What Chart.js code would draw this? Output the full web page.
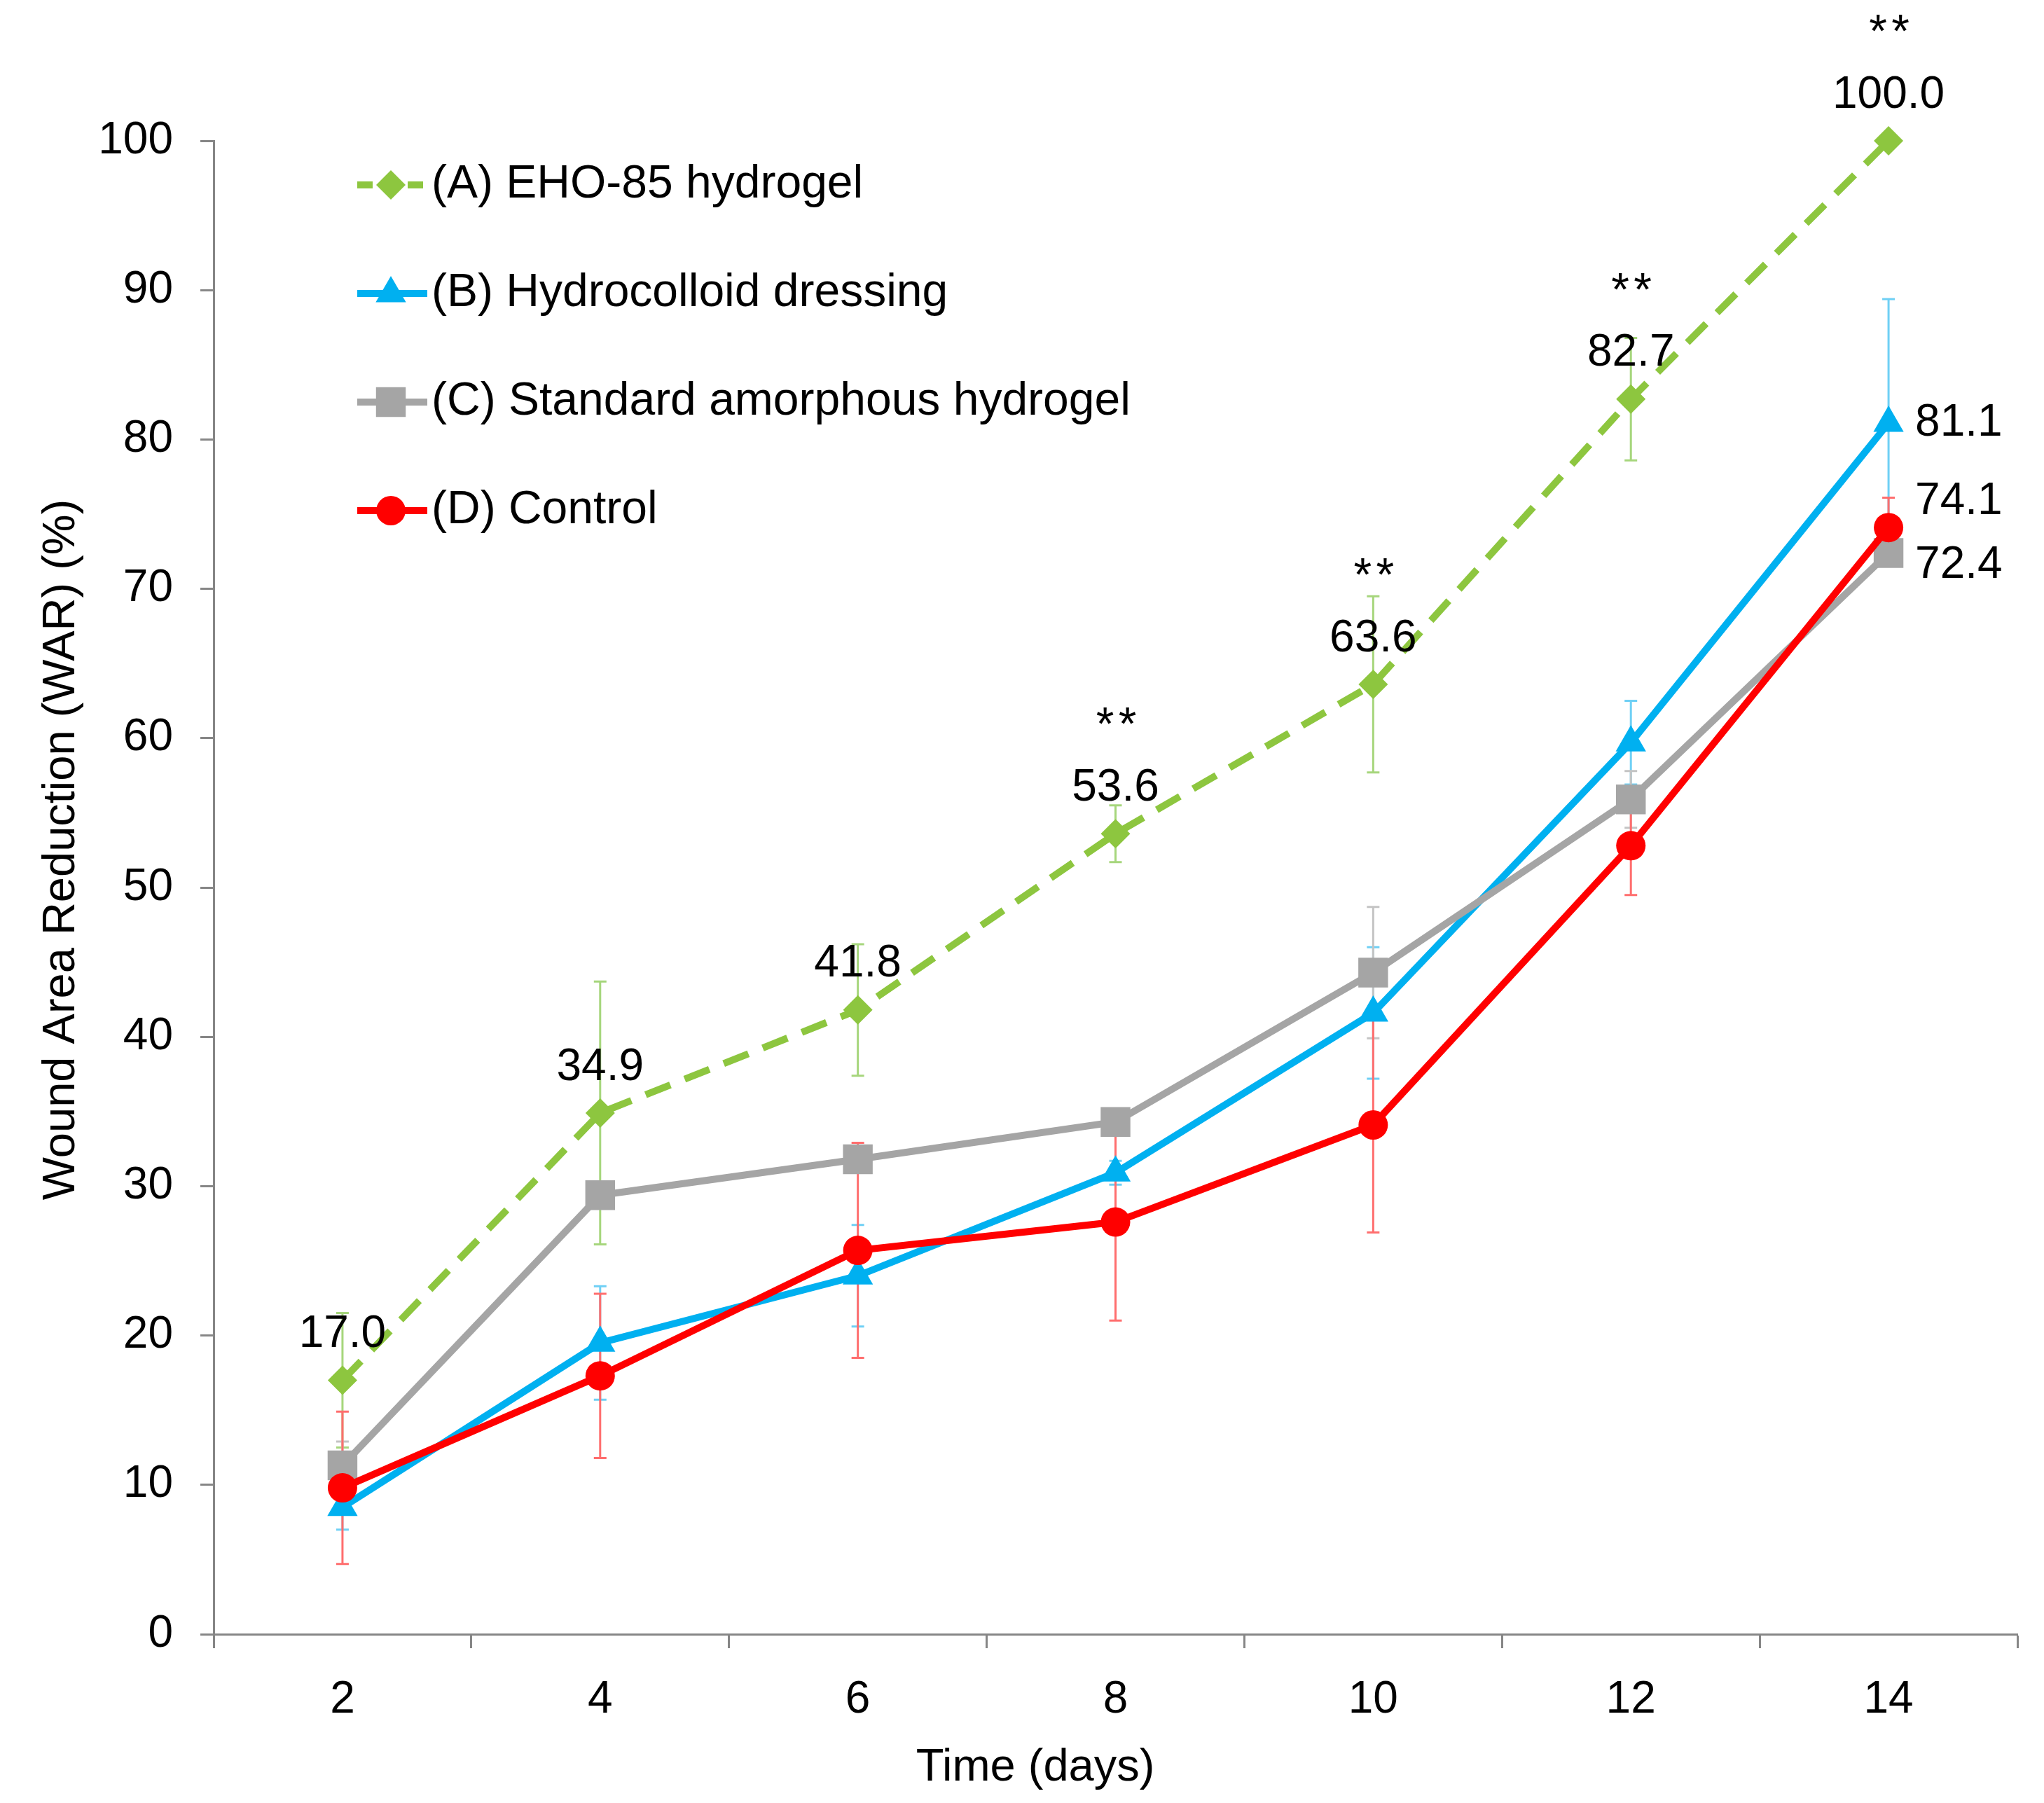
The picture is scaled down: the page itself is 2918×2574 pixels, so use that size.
<!DOCTYPE html>
<html>
<head>
<meta charset="utf-8">
<script src="https://cdn.jsdelivr.net/npm/chart.js@4.4.1/dist/chart.umd.min.js"></script>
<style>
  html, body { margin: 0; padding: 0; background: #fff; }
  #wrap { width: 2918px; height: 2574px; }
</style>
</head>
<body>
<div id="wrap"><canvas id="warChart" width="2918" height="2574"></canvas></div>
<script>
// Giorni di osservazione (categorie asse x)
const days = ['2', '4', '6', '8', '10', '12', '14'];

// Asse y
const yMin = 0;
const yMax = 100;
const yStep = 10;

// Serie: media e deviazione
const ehoValues = [17.0, 34.9, 41.8, 53.6, 63.6, 82.7, 100.0];
const ehoErrors = [4.5, 8.8, 4.4, 1.9, 5.9, 4.1, 0];

const hydrocolloidValues = [8.5, 19.5, 24.0, 30.9, 41.6, 59.7, 81.1];
const hydrocolloidErrors = [1.5, 3.8, 3.4, 0.8, 4.4, 2.8, 8.3];

const amorphousValues = [11.3, 29.4, 31.8, 34.3, 44.3, 55.9, 72.4];
const amorphousErrors = [1.6, 0.8, 0.8, 0.8, 4.4, 1.9, 0.8];

const controlValues = [9.8, 17.3, 25.7, 27.6, 34.1, 52.8, 74.1];
const controlErrors = [5.1, 5.5, 7.2, 6.6, 7.2, 3.3, 2.0];

// Significativita' sopra la serie A
const significance = ['', '', '', '**', '**', '**', '**'];

const FONT = "'Liberation Sans', Arial, sans-serif";

// Barre di errore, disegnate sotto le linee
const errorBarsPlugin = {
    id: 'errorBars',
    beforeDatasetsDraw(chart) {
        const ctx = chart.ctx;
        const y = chart.scales.y;
        chart.data.datasets.forEach((ds, i) => {
            const meta = chart.getDatasetMeta(i);
            ctx.save();
            ctx.strokeStyle = ds.errorColor;
            ctx.lineWidth = 3;
            meta.data.forEach((pt, j) => {
                const e = ds.errors[j];
                if (!e) return;
                const v = ds.data[j];
                const top = y.getPixelForValue(v + e);
                const bot = y.getPixelForValue(v - e);
                ctx.beginPath();
                ctx.moveTo(pt.x, top); ctx.lineTo(pt.x, bot);
                ctx.moveTo(pt.x - 9, top); ctx.lineTo(pt.x + 9, top);
                ctx.moveTo(pt.x - 9, bot); ctx.lineTo(pt.x + 9, bot);
                ctx.stroke();
            });
            ctx.restore();
        });
    }
};

// Etichette dei valori e asterischi
const valueLabelsPlugin = {
    id: 'valueLabels',
    afterDatasetsDraw(chart) {
        const ctx = chart.ctx;
        ctx.save();
        ctx.fillStyle = '#000';
        chart.data.datasets.forEach((ds, i) => {
            const meta = chart.getDatasetMeta(i);
            meta.data.forEach((pt, j) => {
                const txt = ds.data[j].toFixed(1);
                if (ds.labelMode === 'above') {
                    ctx.font = '64px ' + FONT;
                    ctx.textAlign = 'center';
                    ctx.textBaseline = 'middle';
                    ctx.fillText(txt, pt.x, pt.y - 65);
                    if (significance[j]) {
                        // due asterischi un po' distanziati
                        ctx.font = '66px ' + FONT;
                        ctx.textBaseline = 'alphabetic';
                        const by = pt.y - 172 + 38;
                        ctx.fillText('*', pt.x - 15, by);
                        ctx.fillText('*', pt.x + 17, by);
                    }
                } else if (ds.labelMode === 'last' && j === ds.data.length - 1) {
                    ctx.font = '64px ' + FONT;
                    ctx.textAlign = 'left';
                    ctx.textBaseline = 'middle';
                    ctx.fillText(txt, pt.x + 38, pt.y + ds.labelDy);
                }
            });
        });
        ctx.restore();
    }
};

// Legenda dentro l'area del grafico, con linea e marcatore
const insideLegendPlugin = {
    id: 'insideLegend',
    afterDraw(chart) {
        const ctx = chart.ctx;
        ctx.save();
        chart.data.datasets.forEach((ds, i) => {
            const cy = 264 + i * 155;
            ctx.strokeStyle = ds.borderColor;
            ctx.lineWidth = ds.borderWidth;
            ctx.setLineDash(ds.borderDash ? [22, 14] : []);
            ctx.beginPath();
            ctx.moveTo(510, cy);
            ctx.lineTo(610, cy);
            ctx.stroke();
            ctx.setLineDash([]);
            ctx.fillStyle = ds.backgroundColor;
            Chart.helpers.drawPoint(ctx, {
                pointStyle: ds.pointStyle,
                radius: ds.pointRadius,
                rotation: 0,
                borderWidth: 0
            }, 558, cy);
            ctx.fillStyle = '#000';
            ctx.font = '66px ' + FONT;
            ctx.textAlign = 'left';
            ctx.textBaseline = 'middle';
            ctx.fillText(ds.label, 616, cy);
        });
        ctx.restore();
    }
};

// Titoli degli assi
const axisTitlesPlugin = {
    id: 'axisTitles',
    afterDraw(chart) {
        const ctx = chart.ctx;
        ctx.save();
        ctx.fillStyle = '#000';
        ctx.font = '65px ' + FONT;
        ctx.textAlign = 'center';
        ctx.textBaseline = 'middle';
        ctx.fillText('Time (days)', 1478, 2524);
        ctx.translate(88, 1213);
        ctx.rotate(-Math.PI / 2);
        ctx.fillText('Wound Area Reduction (WAR) (%)', 0, 0);
        ctx.restore();
    }
};

const ctx = document.getElementById('warChart').getContext('2d');

const warChart = new Chart(ctx, {
    type: 'line',
    data: {
        labels: days,
        datasets: [
            {
                label: '(A) EHO-85 hydrogel',
                data: ehoValues,
                errors: ehoErrors,
                errorColor: '#a6d67c',
                borderColor: '#8dc63f',
                backgroundColor: '#8dc63f',
                borderDash: [38, 22],
                pointStyle: 'rectRot',
                pointRadius: 21,
                labelMode: 'above',
                order: 3
            },
            {
                label: '(B) Hydrocolloid dressing',
                data: hydrocolloidValues,
                errors: hydrocolloidErrors,
                errorColor: '#6fd0f5',
                borderColor: '#00b0f0',
                backgroundColor: '#00b0f0',
                pointStyle: 'triangle',
                pointRadius: 25,
                labelMode: 'last',
                labelDy: 0,
                order: 2
            },
            {
                label: '(C) Standard amorphous hydrogel',
                data: amorphousValues,
                errors: amorphousErrors,
                errorColor: '#c4c4c4',
                borderColor: '#a5a5a5',
                backgroundColor: '#a5a5a5',
                pointStyle: 'rect',
                pointRadius: 30,
                labelMode: 'last',
                labelDy: 18,
                order: 1
            },
            {
                label: '(D) Control',
                data: controlValues,
                errors: controlErrors,
                errorColor: '#ff6e6e',
                borderColor: '#ff0000',
                backgroundColor: '#ff0000',
                pointStyle: 'circle',
                pointRadius: 21,
                labelMode: 'last',
                labelDy: -37,
                order: 0
            }
        ].map(ds => Object.assign({
            borderWidth: 10,
            tension: 0,
            fill: false,
            clip: false,
            pointBorderWidth: 0,
            pointHoverRadius: 0
        }, ds))
    },
    options: {
        responsive: false,
        devicePixelRatio: 1,
        animation: false,
        layout: {
            padding: { top: 201, right: 38, left: 0, bottom: 0 }
        },
        plugins: {
            legend: { display: false },
            tooltip: { enabled: false }
        },
        scales: {
            x: {
                type: 'category',
                offset: true,
                afterFit(scale) { scale.height = 241; },
                grid: {
                    offset: true,
                    drawOnChartArea: false,
                    drawTicks: true,
                    tickLength: 20,
                    tickColor: '#868686',
                    tickWidth: 3
                },
                border: { color: '#868686', width: 3 },
                ticks: {
                    autoSkip: false,
                    maxRotation: 0,
                    padding: 36,
                    color: '#000',
                    font: { family: FONT, size: 64 }
                }
            },
            y: {
                min: yMin,
                max: yMax,
                afterFit(scale) { scale.width = 305; },
                grid: {
                    drawOnChartArea: false,
                    drawTicks: true,
                    tickLength: 19,
                    tickColor: '#868686',
                    tickWidth: 3
                },
                border: { color: '#868686', width: 3 },
                ticks: {
                    stepSize: yStep,
                    padding: 39,
                    color: '#000',
                    font: { family: FONT, size: 64 }
                }
            }
        }
    },
    plugins: [errorBarsPlugin, valueLabelsPlugin, insideLegendPlugin, axisTitlesPlugin]
});
</script>
</body>
</html>
